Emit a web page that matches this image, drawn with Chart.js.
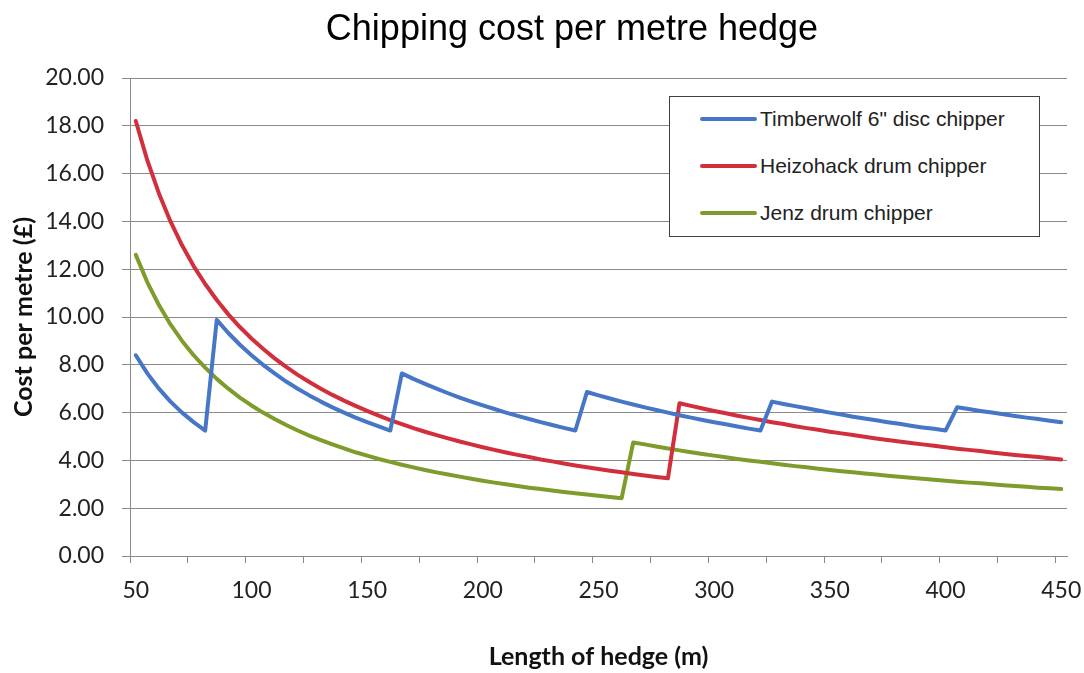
<!DOCTYPE html>
<html>
<head>
<meta charset="utf-8">
<title>Chipping cost per metre hedge</title>
<script src="https://cdn.jsdelivr.net/npm/chart.js@4.4.1/dist/chart.umd.min.js"></script>
<style>
  html, body { margin: 0; padding: 0; background: #fff; }
  #wrap { position: relative; width: 1084px; height: 673px; }
  #chart { position: absolute; left: 0; top: 0; }
  #title {
    position: absolute; left: 272px; top: 10px; width: 600px;
    text-align: center; font: 36px/36px "Liberation Sans", Arial, sans-serif; color: #000;
  }
  #legend {
    position: absolute; left: 669px; top: 96px; width: 369px; height: 139px;
    border: 1.5px solid #404040; background: #fff;
    font: 21px "Liberation Sans", Arial, sans-serif; color: #222;
  }
  #legend .item { position: absolute; left: 30px; height: 24px; display: flex; align-items: center; }
  #legend .swatch { width: 57px; height: 4px; border-radius: 2px; margin-right: 3px; }
</style>
</head>
<body>
<div id="wrap">
  <canvas id="chart" width="1084" height="673"></canvas>
  <div id="title">Chipping cost per metre hedge</div>
  <div id="legend"></div>
</div>
<script>
// Hedge lengths (m), one category every 5 m
const lengths = [
  50, 55, 60, 65, 70, 75, 80, 85, 90, 95,
  100, 105, 110, 115, 120, 125, 130, 135, 140, 145,
  150, 155, 160, 165, 170, 175, 180, 185, 190, 195,
  200, 205, 210, 215, 220, 225, 230, 235, 240, 245,
  250, 255, 260, 265, 270, 275, 280, 285, 290, 295,
  300, 305, 310, 315, 320, 325, 330, 335, 340, 345,
  350, 355, 360, 365, 370, 375, 380, 385, 390, 395,
  400, 405, 410, 415, 420, 425, 430, 435, 440, 445,
  450,
];

// Cost per metre (£)
const timberwolf = [
  8.40, 7.64, 7.00, 6.46, 6.00, 5.60, 5.25, 9.88, 9.33, 8.84,
  8.40, 8.00, 7.64, 7.30, 7.00, 6.72, 6.46, 6.22, 6.00, 5.79,
  5.60, 5.42, 5.25, 7.64, 7.41, 7.20, 7.00, 6.81, 6.63, 6.46,
  6.30, 6.15, 6.00, 5.86, 5.73, 5.60, 5.48, 5.36, 5.25, 6.86,
  6.72, 6.59, 6.46, 6.34, 6.22, 6.11, 6.00, 5.89, 5.79, 5.69,
  5.60, 5.51, 5.42, 5.33, 5.25, 6.46, 6.36, 6.27, 6.18, 6.09,
  6.00, 5.92, 5.83, 5.75, 5.68, 5.60, 5.53, 5.45, 5.38, 5.32,
  5.25, 6.22, 6.15, 6.07, 6.00, 5.93, 5.86, 5.79, 5.73, 5.66,
  5.60,
];

const heizohack = [
  18.20, 16.55, 15.17, 14.00, 13.00, 12.13, 11.38, 10.71, 10.11, 9.58,
  9.10, 8.67, 8.27, 7.91, 7.58, 7.28, 7.00, 6.74, 6.50, 6.28,
  6.07, 5.87, 5.69, 5.52, 5.35, 5.20, 5.06, 4.92, 4.79, 4.67,
  4.55, 4.44, 4.33, 4.23, 4.14, 4.04, 3.96, 3.87, 3.79, 3.71,
  3.64, 3.57, 3.50, 3.43, 3.37, 3.31, 3.25, 6.39, 6.28, 6.17,
  6.07, 5.97, 5.87, 5.78, 5.69, 5.60, 5.52, 5.43, 5.35, 5.28,
  5.20, 5.13, 5.06, 4.99, 4.92, 4.85, 4.79, 4.73, 4.67, 4.61,
  4.55, 4.49, 4.44, 4.39, 4.33, 4.28, 4.23, 4.18, 4.14, 4.09,
  4.04,
];

const jenz = [
  12.60, 11.45, 10.50, 9.69, 9.00, 8.40, 7.88, 7.41, 7.00, 6.63,
  6.30, 6.00, 5.73, 5.48, 5.25, 5.04, 4.85, 4.67, 4.50, 4.34,
  4.20, 4.06, 3.94, 3.82, 3.71, 3.60, 3.50, 3.41, 3.32, 3.23,
  3.15, 3.07, 3.00, 2.93, 2.86, 2.80, 2.74, 2.68, 2.63, 2.57,
  2.52, 2.47, 2.42, 4.75, 4.67, 4.58, 4.50, 4.42, 4.34, 4.27,
  4.20, 4.13, 4.06, 4.00, 3.94, 3.88, 3.82, 3.76, 3.71, 3.65,
  3.60, 3.55, 3.50, 3.45, 3.41, 3.36, 3.32, 3.27, 3.23, 3.19,
  3.15, 3.11, 3.07, 3.04, 3.00, 2.96, 2.93, 2.90, 2.86, 2.83,
  2.80,
];

const seriesNames = ['Timberwolf 6" disc chipper', 'Heizohack drum chipper', 'Jenz drum chipper'];
const seriesColors = ['#4676c6', '#d22f3c', '#7e9c2c'];

const axisGray = '#8a8a8a';
const textColor = '#222';

Chart.defaults.font.family = 'Lato, "Open Sans", sans-serif';

const datasets = [timberwolf, heizohack, jenz].map((values, i) => ({
  label: seriesNames[i],
  data: values,
  borderColor: seriesColors[i],
  backgroundColor: seriesColors[i],
  borderWidth: 4,
  borderCapStyle: 'round',
  borderJoinStyle: 'round',
  pointRadius: 0,
  tension: 0,
  fill: false,
}));

const chart = new Chart(document.getElementById('chart').getContext('2d'), {
  type: 'line',
  data: { labels: lengths.map(String), datasets },
  options: {
    responsive: false,
    animation: false,
    devicePixelRatio: 1,
    layout: { padding: { left: 0, right: 17, top: 78, bottom: 0 } },
    plugins: {
      legend: { display: false },
      title: { display: false },
      tooltip: { enabled: false },
    },
    scales: {
      x: {
        type: 'category',
        offset: true,
        afterFit: (scale) => {
          scale.height = 117;
          // let the end labels overhang, like Excel does
          scale.paddingLeft = 0;
          scale.paddingRight = 0;
        },
        border: { display: true, color: axisGray, width: 1 },
        grid: {
          offset: true,
          drawOnChartArea: false,
          drawTicks: true,
          tickLength: 7,
          // tick marks every 25 m only
          color: (ctx) => (ctx.index % 5 === 0 ? axisGray : 'rgba(0,0,0,0)'),
        },
        ticks: {
          autoSkip: false,
          maxRotation: 0,
          minRotation: 0,
          padding: 14,
          font: { size: 23 },
          color: textColor,
          callback: function (value, index) {
            return index % 10 === 0 ? this.getLabelForValue(value) : '';
          },
        },
        title: {
          display: true,
          text: 'Length of hedge (m)',
          font: { size: 25, weight: 'bold' },
          color: '#111',
          padding: { top: 0, bottom: 1 },
        },
      },
      y: {
        min: 0,
        max: 20,
        afterFit: (scale) => { scale.width = 130; },
        border: { display: true, color: axisGray, width: 1 },
        grid: { color: axisGray, lineWidth: 1, tickLength: 8 },
        ticks: {
          stepSize: 2,
          padding: 18,
          font: { size: 23 },
          color: textColor,
          callback: (v) => Number(v).toFixed(2),
        },
        title: {
          display: true,
          text: 'Cost per metre (£)',
          font: { size: 25, weight: 'bold' },
          color: '#111',
          padding: { top: 9, bottom: 0 },
        },
      },
    },
  },
});

// Boxed legend inside the plot, built from the chart's datasets
const legendEl = document.getElementById('legend');
chart.data.datasets.forEach((ds, i) => {
  const item = document.createElement('div');
  item.className = 'item';
  item.style.top = (10 + i * 47) + 'px';
  const swatch = document.createElement('span');
  swatch.className = 'swatch';
  swatch.style.background = ds.borderColor;
  const label = document.createElement('span');
  label.textContent = ds.label;
  item.appendChild(swatch);
  item.appendChild(label);
  legendEl.appendChild(item);
});
</script>
</body>
</html>
